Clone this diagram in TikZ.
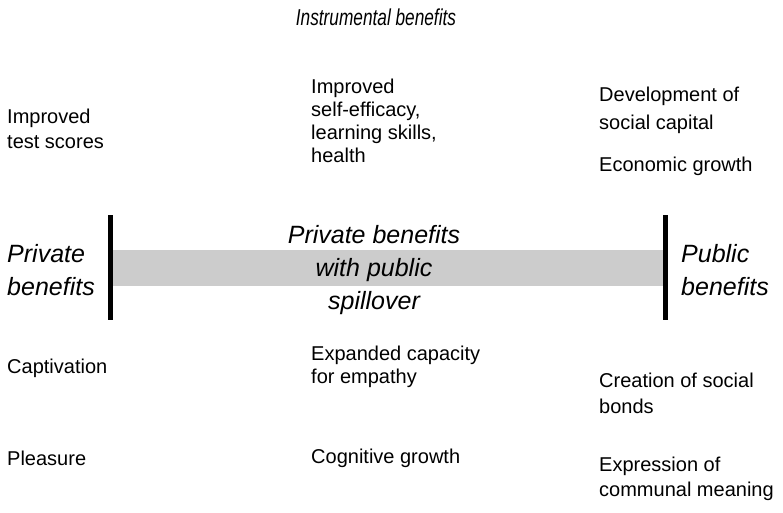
\documentclass[tikz,border=0pt]{standalone}
\usepackage{fontspec}
\setmainfont{Liberation Sans}
\usepackage{graphicx}
\usetikzlibrary{positioning}

\begin{document}
\begin{tikzpicture}[x=1pt,y=-1pt]
 \useasboundingbox (0,0) rectangle (783,512);
 % the bar between the two ends
 \fill [black!20] (113,250) rectangle (663,286);
 \draw [line width=5pt] (110,215) -- (110,320);
 \draw [line width=5pt] (665,215) -- (665,320);
 \node (top) at (376,17) {\scalebox{0.75}[1]{\fontsize{23}{26}\selectfont\itshape Instrumental benefits}};
 \begin{scope}[every node/.style={inner sep=0pt, align=center, font=\fontsize{25}{33}\selectfont\itshape}]
 \node [anchor=west, align=left] (priv) at (7,270) {Private\\benefits};
 \node (mid) at (374,270) {Private benefits\\with public\\spillover};
 \node [anchor=west, align=left] (pub) at (681,270) {Public\\benefits};
 \end{scope}
 \begin{scope}[every node/.style={inner sep=0pt, align=left, anchor=north west, font=\fontsize{20}{23}\selectfont}]
 \node [font=\fontsize{20}{25}\selectfont] (a1) at (7,109) {Improved\\test scores};
 \node (a2) at (311,79) {Improved\\self-efficacy,\\learning skills,\\health};
 \node [font=\fontsize{20}{28}\selectfont] (a3) at (599,87) {Development of\\social capital};
 \node (a4) at (599,157) {Economic growth};
 \node [anchor=west] (b1) at (7,368) {Captivation};
 \node (b2) at (311,346) {Expanded capacity\\for empathy};
 \node [font=\fontsize{20}{26}\selectfont] (b3) at (599,373) {Creation of social\\bonds};
 \node [anchor=west] (c1) at (7,458) {Pleasure};
 \node [anchor=west] (c2) at (311,458) {Cognitive growth};
 \node [font=\fontsize{20}{25}\selectfont] (c3) at (599,457) {Expression of\\communal meaning};
 \end{scope}
\end{tikzpicture}
\end{document}
